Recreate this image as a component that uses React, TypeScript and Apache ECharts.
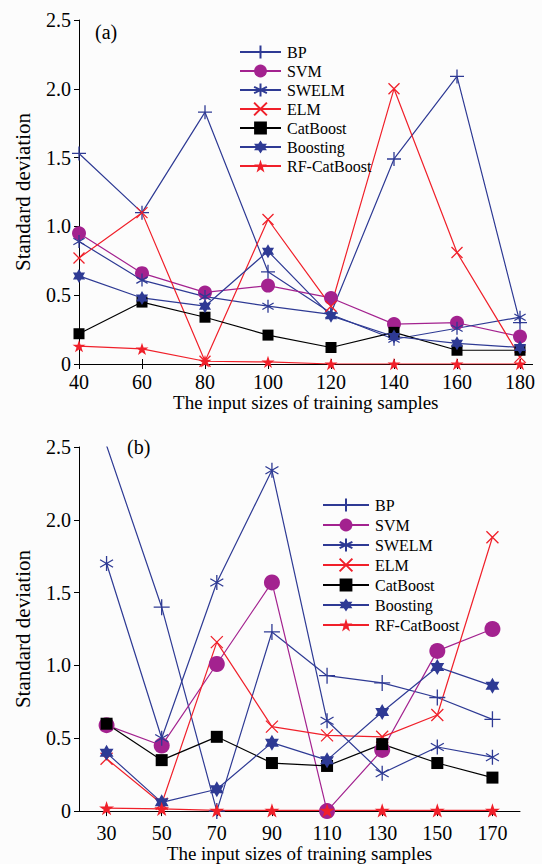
import React, { useEffect, useRef } from 'react';
import * as echarts from 'echarts';

// ---------- data (a) ----------
const xTop = [40, 60, 80, 100, 120, 140, 160, 180];
const bpA = [1.53, 1.10, 1.83, 0.67, 0.37, 1.49, 2.09, 0.30];
const svmA = [0.95, 0.66, 0.52, 0.57, 0.48, 0.29, 0.30, 0.20];
const swelmA = [0.89, 0.61, 0.49, 0.42, 0.36, 0.18, 0.26, 0.34];
const elmA = [0.77, 1.10, 0.02, 1.05, 0.42, 2.00, 0.81, 0.05];
const catA = [0.22, 0.45, 0.34, 0.21, 0.12, 0.23, 0.10, 0.10];
const boostA = [0.64, 0.48, 0.42, 0.82, 0.35, 0.20, 0.15, 0.12];
const rfA = [0.13, 0.11, 0.02, 0.015, 0, 0, 0, 0];

// ---------- data (b) ----------
const xBottom = ['30', '50', '70', '90', '110', '130', '150', '170'];
const bpB = [2.51, 1.40, 0.0, 1.23, 0.93, 0.88, 0.78, 0.63];
const svmB = [0.59, 0.45, 1.01, 1.57, 0.0, 0.42, 1.10, 1.25];
const swelmB = [1.70, 0.50, 1.57, 2.34, 0.62, 0.26, 0.44, 0.37];
const elmB = [0.36, 0.05, 1.16, 0.58, 0.52, 0.51, 0.66, 1.88];
const catB = [0.60, 0.35, 0.51, 0.33, 0.31, 0.46, 0.33, 0.23];
const boostB = [0.40, 0.06, 0.15, 0.47, 0.35, 0.68, 0.99, 0.86];
const rfB = [0.02, 0.015, 0.005, 0.005, 0.005, 0.005, 0.005, 0.005];

const names = ['BP', 'SVM', 'SWELM', 'ELM', 'CatBoost', 'Boosting', 'RF-CatBoost'];

const BLUE = '#2E3A94';
const PURPLE = '#A3228F';
const RED = '#F0202A';
const BLACK = '#000000';
const FONT = 'Liberation Serif';

const PLUS = 'path://M0 10L20 10M10 0L10 20';
const ASTER = 'path://M10 0L10 20M1.34 5L18.66 15M1.34 15L18.66 5';
const CROSS = 'path://M0 0L20 20M0 20L20 0';
const HEXA = 'path://M10 0L12.89 5L18.66 5L15.77 10L18.66 15L12.89 15L10 20L7.11 15L1.34 15L4.23 10L1.34 5L7.11 5Z';
const STAR = 'path://M10 0L12.25 6.91L19.51 6.91L13.63 11.18L15.88 18.09L10 13.82L4.12 18.09L6.37 11.18L0.49 6.91L7.75 6.91Z';

const styles = [
  { color: BLUE, symbol: PLUS, size: 14, stroke: true },
  { color: PURPLE, symbol: 'circle', size: 14, stroke: false },
  { color: BLUE, symbol: ASTER, size: 13, stroke: true },
  { color: RED, symbol: CROSS, size: 11, stroke: true },
  { color: BLACK, symbol: 'rect', size: 11, stroke: false },
  { color: BLUE, symbol: HEXA, size: 14, stroke: false },
  { color: RED, symbol: STAR, size: 13, stroke: false },
];

const dataA = [bpA, svmA, swelmA, elmA, catA, boostA, rfA];
const dataB = [bpB, svmB, swelmB, elmB, catB, boostB, rfB];

function makeSeries(idx: number, data: any[], xAxisIndex: number, yAxisIndex: number, scale: number) {
  const s = styles[idx];
  return {
    name: names[idx],
    type: 'line',
    xAxisIndex,
    yAxisIndex,
    data,
    symbol: s.symbol,
    symbolSize: Math.round(s.size * scale),
    symbolKeepAspect: true,
    showAllSymbol: true,
    clip: true,
    lineStyle: { color: s.color, width: 1.2 },
    itemStyle: {
      color: s.color,
      borderColor: s.color,
      borderWidth: s.stroke ? 1.3 : 0,
    },
    emphasis: { disabled: true },
  };
}

const axisText = { color: BLACK, fontFamily: FONT, fontSize: 20 };

function yAxis(gridIndex: number) {
  return {
    type: 'value',
    gridIndex,
    min: 0,
    max: 2.5,
    interval: 0.5,
    name: 'Standard deviation',
    nameLocation: 'middle',
    nameGap: 46,
    nameTextStyle: { color: BLACK, fontFamily: FONT, fontSize: 21 },
    axisLine: { show: true, lineStyle: { color: BLACK, width: 1 } },
    axisTick: { show: true, inside: false, length: 5, lineStyle: { color: BLACK } },
    axisLabel: {
      ...axisText,
      margin: 8,
      formatter: (v: number) => (v === 0 ? '0' : v.toFixed(1)),
    },
    splitLine: { show: false },
  };
}

const legendBase = {
  data: names,
  orient: 'vertical',
  selectedMode: false,
  textStyle: { color: BLACK, fontFamily: FONT, fontSize: 16, padding: [0, 0, 0, 1] },
};

const option: any = {
  animation: false,
  backgroundColor: '#fcfcfc',
  grid: [
    { left: 79, top: 20, width: 453.6, height: 344 },
    { left: 79, top: 447, width: 441, height: 370 },
  ],
  xAxis: [
    {
      type: 'value',
      gridIndex: 0,
      min: 40,
      max: 184,
      interval: 20,
      name: 'The input sizes of training samples',
      nameLocation: 'middle',
      nameGap: 27,
      nameTextStyle: { color: BLACK, fontFamily: FONT, fontSize: 19 },
      axisLine: { show: true, onZero: false, lineStyle: { color: BLACK, width: 1 } },
      axisTick: { show: true, length: 5, lineStyle: { color: BLACK }, customValues: xTop },
      axisLabel: { ...axisText, margin: 8, customValues: xTop },
      splitLine: { show: false },
    },
    {
      type: 'value',
      gridIndex: 0,
      position: 'bottom',
      min: 40,
      max: 184,
      interval: 20,
      axisLine: { show: false },
      axisTick: { show: true, inside: true, length: 5, lineStyle: { color: BLACK }, customValues: xTop },
      axisLabel: { show: false },
      splitLine: { show: false },
    },
    {
      type: 'category',
      gridIndex: 1,
      data: xBottom,
      boundaryGap: true,
      name: 'The input sizes of training samples',
      nameLocation: 'middle',
      nameGap: 31,
      nameTextStyle: { color: BLACK, fontFamily: FONT, fontSize: 19 },
      axisLine: { show: true, onZero: false, lineStyle: { color: BLACK, width: 1 } },
      axisTick: { show: true, alignWithLabel: true, length: 5, lineStyle: { color: BLACK } },
      axisLabel: { ...axisText, margin: 12 },
      splitLine: { show: false },
    },
    {
      type: 'category',
      gridIndex: 1,
      position: 'bottom',
      data: xBottom,
      boundaryGap: true,
      axisLine: { show: false },
      axisTick: { show: true, inside: true, alignWithLabel: true, length: 5, lineStyle: { color: BLACK } },
      axisLabel: { show: false },
      splitLine: { show: false },
    },
  ],
  yAxis: [yAxis(0), yAxis(1)],
  legend: [
    { ...legendBase, left: 234, top: 39, itemWidth: 41, itemHeight: 16, itemGap: 3 },
    { ...legendBase, left: 317, top: 492, itemWidth: 46, itemHeight: 16, itemGap: 4 },
  ],
  graphic: [
    {
      type: 'text',
      left: 95,
      top: 22,
      style: { text: '(a)', fill: BLACK, font: `20px ${FONT}` },
    },
    {
      type: 'text',
      left: 127,
      top: 437,
      style: { text: '(b)', fill: BLACK, font: `20px ${FONT}` },
    },
  ],
  series: [
    ...dataA.map((arr, i) => makeSeries(i, xTop.map((x, j) => [x, arr[j]]), 0, 0, 1)),
    ...dataB.map((arr, i) => makeSeries(i, arr, 2, 1, 1.12)),
  ],
};

export default function App() {
  const ref = useRef<HTMLDivElement>(null);
  useEffect(() => {
    if (!ref.current) return;
    const chart = echarts.init(ref.current, null, { renderer: 'svg' });
    chart.setOption(option);
    return () => chart.dispose();
  }, []);
  return (
    <div
      ref={ref}
      style={{ position: 'absolute', left: 0, top: 0, width: 542, height: 864 }}
    />
  );
}
